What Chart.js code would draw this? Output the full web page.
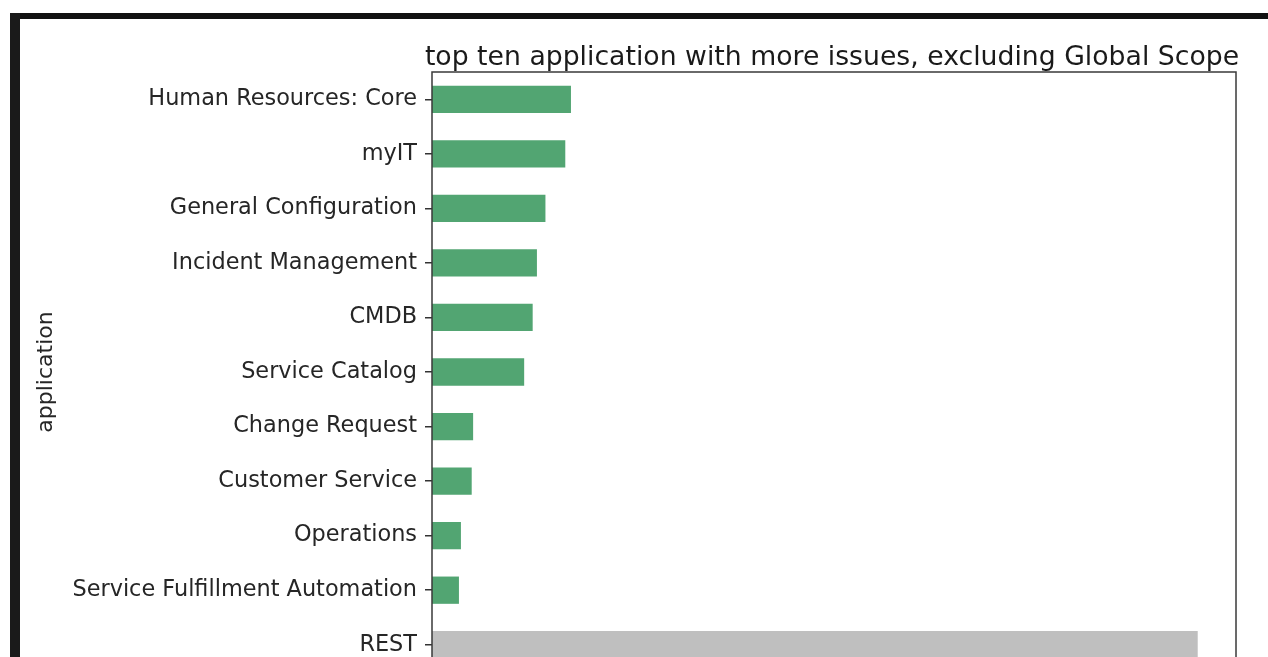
<!DOCTYPE html>
<html>
<head>
<meta charset="utf-8">
<script src="https://cdn.jsdelivr.net/npm/chart.js@4.4.1/dist/chart.umd.min.js"></script>
<style>
  html, body { margin: 0; padding: 0; background: #fff; overflow: hidden; }
  body { width: 1268px; height: 657px; position: relative; }
  .frame-top { position: absolute; left: 10px; top: 13px; width: 1258px; height: 6px; background: #111; }
  .frame-left { position: absolute; left: 10px; top: 13px; width: 10px; height: 644px; background: #1a1a1a; }
  #box { position: absolute; left: 20px; top: 19px; width: 1248px; height: 680px; }
</style>
</head>
<body>
<div class="frame-top"></div>
<div class="frame-left"></div>
<div id="box"><canvas id="issuesChart"></canvas></div>
<script>
// data
const applications = [
  'Human Resources: Core',
  'myIT',
  'General Configuration',
  'Incident Management',
  'CMDB',
  'Service Catalog',
  'Change Request',
  'Customer Service',
  'Operations',
  'Service Fulfillment Automation',
  'REST'
];

const issues = [49, 47, 40, 37, 35.5, 32.5, 14.5, 14, 10.2, 9.5, 270];

const barColors = applications.map(name => name === 'REST' ? '#bfbfbf' : '#52a572');

const chartTitle = 'top ten application with more issues, excluding Global Scope';

// title over the plot + the box around it, like matplotlib
const framePlugin = {
  id: 'frame',
  afterDatasetsDraw(chart) {
    const a = chart.chartArea;
    const c = chart.ctx;
    c.save();
    c.strokeStyle = '#3a3a3a';
    c.lineWidth = 1.5;
    c.strokeRect(a.left, a.top, a.right - a.left, a.bottom - a.top);
    c.restore();
  },
  afterDraw(chart) {
    const a = chart.chartArea;
    const c = chart.ctx;
    c.save();
    c.fillStyle = '#1a1a1a';
    c.font = '26.7px "DejaVu Sans"';
    c.textAlign = 'center';
    c.textBaseline = 'alphabetic';
    c.fillText(chartTitle, (a.left + a.right) / 2 - 2, a.top - 7);
    c.restore();
  }
};

const ctx = document.getElementById('issuesChart');

new Chart(ctx, {
  type: 'bar',
  data: {
    labels: applications,
    datasets: [{
      data: issues,
      backgroundColor: barColors,
      borderWidth: 0,
      categoryPercentage: 1,
      barPercentage: 0.5
    }]
  },
  options: {
    responsive: true,
    maintainAspectRatio: false,
    animation: false,
    indexAxis: 'y',
    layout: {
      padding: { left: 0, top: 53, right: 32, bottom: 27 }
    },
    plugins: {
      legend: { display: false },
      tooltip: { enabled: false }
    },
    scales: {
      x: {
        display: false,
        min: 0,
        max: Math.max(...issues) * 1.05
      },
      y: {
        offset: true,
        afterFit: function(scale) {
          scale.width = 412;
        },
        border: { display: false },
        grid: {
          offset: false,
          drawOnChartArea: false,
          drawTicks: true,
          tickLength: 7,
          color: '#333',
          lineWidth: 1.5
        },
        ticks: {
          padding: 8,
          color: '#262626',
          font: { family: 'DejaVu Sans', size: 22.4 }
        },
        title: {
          display: true,
          text: 'application',
          color: '#262626',
          padding: { top: 13, bottom: 0 },
          font: { family: 'DejaVu Sans', size: 22 }
        }
      }
    }
  },
  plugins: [framePlugin]
});
</script>
</body>
</html>
